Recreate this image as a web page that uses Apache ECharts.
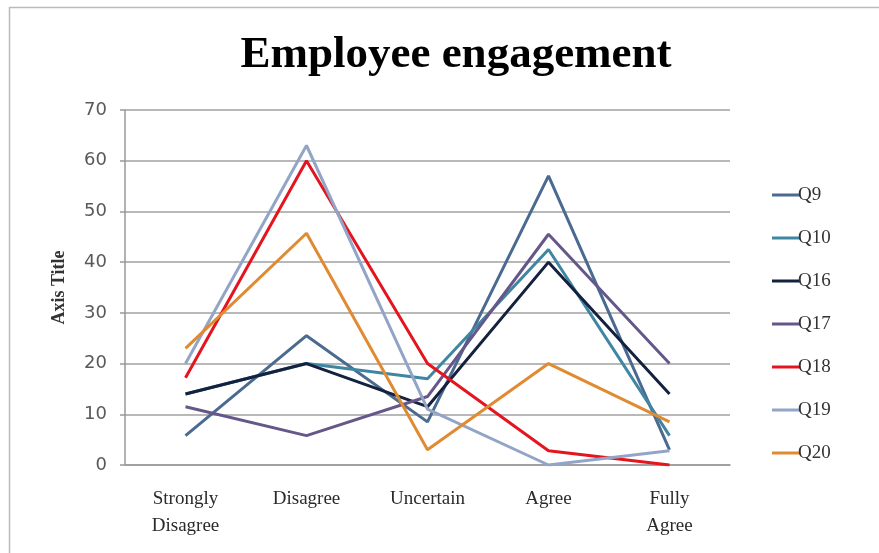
<!DOCTYPE html>
<html>
<head>
<meta charset="utf-8">
<script src="https://cdn.jsdelivr.net/npm/echarts@6/dist/echarts.min.js"></script>
<style>
html,body{margin:0;padding:0;background:#fff;}
#c{width:879px;height:553px;}
</style>
</head>
<body>
<div id="c"></div>
<script>
var categories = ["Strongly\nDisagree", "Disagree", "Uncertain", "Agree", "Fully\nAgree"];
var yTicks = [0, 10, 20, 30, 40, 50, 60, 70];
var seriesNames = ["Q9", "Q10", "Q16", "Q17", "Q18", "Q19", "Q20"];
var q9  = [5.8, 25.5, 8.5, 57, 3];
var q10 = [14, 20, 17, 42.5, 5.8];
var q16 = [14, 20, 11.5, 40, 14];
var q17 = [11.5, 5.8, 13.5, 45.5, 20];
var q18 = [17.2, 60, 20, 2.8, 0];
var q19 = [20, 63, 11, 0, 2.8];
var q20 = [23, 45.7, 3, 20, 8.5];
var seriesData = [q9, q10, q16, q17, q18, q19, q20];
var colors = ["#4a6b8f", "#3f86a3", "#14213f", "#66578a", "#e4151f", "#93a5c7", "#e08a32"];

var chart = echarts.init(document.getElementById('c'));
var option = {
  backgroundColor: '#fff',
  animation: false,
  title: {
    text: 'Employee engagement',
    left: 451, top: 28, textAlign: 'center',
    textStyle: {fontFamily: 'Liberation Serif', fontWeight: 'bold', fontSize: 45, color: '#000'}
  },
  graphic: [{
    type: 'rect', shape: {x: 9.5, y: 7.5, width: 900, height: 600},
    style: {fill: 'none', stroke: '#bbb', lineWidth: 1.5}, silent: true
  }],
  legend: {
    orient: 'vertical', left: 767, top: 180,
    itemWidth: 28, itemHeight: 3, itemGap: 23,
    icon: 'rect',
    textStyle: {fontFamily: 'Liberation Serif', fontSize: 19, color: '#333', lineHeight: 20, padding: [0,0,0,-7]},
    data: seriesNames
  },
  grid: {left: 125, right: 149, top: 110, bottom: 88},
  xAxis: {
    type: 'category', data: categories, boundaryGap: true,
    axisLine: {lineStyle: {color: '#999', width: 1.5}},
    axisTick: {show: false},
    axisLabel: {fontFamily: 'Liberation Serif', fontSize: 19, color: '#2a2a2a', lineHeight: 27, margin: 21, interval: 0}
  },
  yAxis: {
    type: 'value', min: yTicks[0], max: yTicks[yTicks.length-1], interval: 10,
    name: 'Axis Title', nameLocation: 'middle', nameGap: 57, nameRotate: 90,
    nameTextStyle: {fontFamily: 'Liberation Serif', fontWeight: 'bold', fontSize: 18, color: '#333'},
    axisLine: {show: true, lineStyle: {color: '#999', width: 1.5}},
    axisTick: {show: true, length: 5, lineStyle: {color: '#999', width: 1.5}},
    axisLabel: {fontFamily: 'DejaVu Sans', fontSize: 18, color: '#595959', margin: 18},
    splitLine: {lineStyle: {color: '#a0a0a0', width: 1.5}}
  },
  series: seriesNames.map(function(n, i){
    return {
      name: n, type: 'line', data: seriesData[i], symbol: 'none',
      itemStyle: {color: colors[i]},
      lineStyle: {color: colors[i], width: 3}
    };
  })
};
chart.setOption(option);
</script>
</body>
</html>
